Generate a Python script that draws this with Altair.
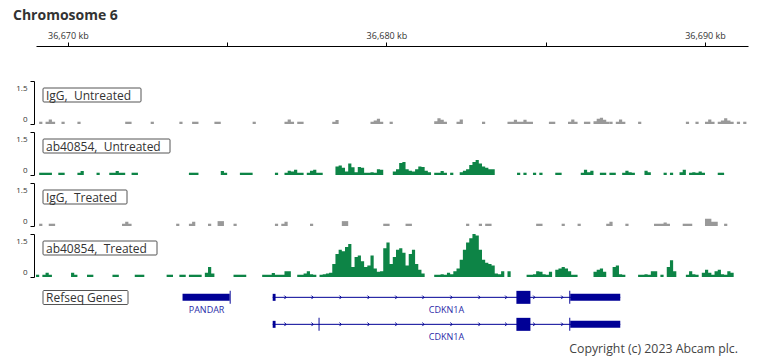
import altair as alt
import pandas as pd

# ---------------- data ----------------
TITLE = "Chromosome 6"
X_DOMAIN = [36669.0, 36691.35]          # kb
TICK_KB = [36670, 36675, 36680, 36685, 36690]
BIN_ORIGIN = 36669.0                     # kb, coverage bins start here
BIN_KB = 0.1                             # kb per coverage bin

# coverage islands: (first bin index, bin heights)
igg_untreated = [
    (1, [0.08]), (3, [0.08, 0.16, 0.08]), (8, [0.08]), (13, [0.08]),
    (28, [0.08, 0.08]), (36, [0.08]), (45, [0.08]), (49, [0.08, 0.08]),
    (56, [0.08, 0.08]), (68, [0.08]), (78, [0.08, 0.16, 0.08]), (82, [0.08, 0.08]),
    (93, [0.08, 0.14]), (105, [0.08, 0.12, 0.18, 0.08]), (111, [0.08]),
    (125, [0.1, 0.2, 0.15, 0.08]), (132, [0.08, 0.16]), (140, [0.08]),
    (148, [0.08, 0.08, 0.15, 0.08, 0.08, 0.15, 0.08, 0.08]), (161, [0.08, 0.08]),
    (167, [0.08, 0.16, 0.08]), (172, [0.08, 0.08]), (175, [0.1, 0.18, 0.22, 0.15, 0.08]),
    (180, [0.08]), (182, [0.08, 0.16, 0.08]), (189, [0.08]), (204, [0.08]),
    (207, [0.08]), (210, [0.08, 0.16, 0.08]), (214, [0.08, 0.12, 0.2, 0.12, 0.08]),
    (220, [0.08]), (222, [0.08]),
]

ab_untreated = [
    (1, [0.08, 0.08, 0.08, 0.08]), (7, [0.08, 0.08]), (13, [0.08, 0.14]), (19, [0.08]),
    (23, [0.08, 0.08, 0.14, 0.08, 0.08]), (30, [0.08, 0.08]), (48, [0.08, 0.08, 0.08]),
    (58, [0.14, 0.08]), (64, [0.08, 0.08, 0.08, 0.08]), (75, [0.08]),
    (78, [0.08, 0.15, 0.12, 0.18, 0.08, 0.08]), (85, [0.08, 0.15, 0.18, 0.08, 0.08]),
    (94, [0.3, 0.33, 0.25, 0.12, 0.4, 0.27, 0.1, 0.28, 0.25, 0.08, 0.08, 0.1, 0.08, 0.2, 0.18]),
    (112, [0.12, 0.2, 0.42, 0.45, 0.2, 0.15, 0.12, 0.2, 0.3, 0.28, 0.15, 0.1]),
    (125, [0.08, 0.08, 0.14, 0.08]), (130, [0.08]),
    (133, [0.1, 0.15, 0.2, 0.35, 0.45, 0.52, 0.4, 0.3, 0.25, 0.2, 0.2]),
    (151, [0.08]), (153, [0.08]), (156, [0.08]), (158, [0.08]), (163, [0.08, 0.08]),
    (171, [0.08, 0.18, 0.1, 0.15]), (177, [0.08, 0.08]), (180, [0.08, 0.08]),
    (184, [0.08, 0.15, 0.1, 0.08]), (191, [0.15, 0.1]), (197, [0.08]), (199, [0.08]),
    (202, [0.1, 0.18]), (205, [0.08, 0.1, 0.08, 0.12, 0.08]), (214, [0.08, 0.08]),
]

igg_treated = [
    (1, [0.08]), (4, [0.08, 0.08]), (27, [0.08, 0.15, 0.08]), (44, [0.08]),
    (48, [0.08, 0.15]), (54, [0.08]), (57, [0.17, 0.17]), (62, [0.08]), (75, [0.08]),
    (77, [0.08, 0.15]), (86, [0.08]), (96, [0.17, 0.17]), (109, [0.08, 0.08]),
    (116, [0.08, 0.08]), (135, [0.08]), (139, [0.08]), (141, [0.08, 0.08]),
    (157, [0.08, 0.08]), (165, [0.08]), (170, [0.08]), (179, [0.08, 0.15]), (185, [0.08]),
    (194, [0.08, 0.08, 0.08, 0.12, 0.08]), (203, [0.08, 0.08, 0.08]),
    (210, [0.25, 0.25, 0.15, 0.15]), (216, [0.08]),
]

ab_treated = [
    (0, [0.08]), (2, [0.08, 0.15, 0.08]), (11, [0.15, 0.08]), (16, [0.08, 0.08]),
    (24, [0.08, 0.08]), (31, [0.08, 0.08, 0.08]), (41, [0.08, 0.08]), (45, [0.08, 0.08]),
    (48, [0.08, 0.08, 0.08, 0.08]), (53, [0.15, 0.35, 0.12]), (62, [0.08, 0.08, 0.08, 0.08]),
    (71, [0.08, 0.08, 0.08, 0.14, 0.08, 0.08, 0.08, 0.2, 0.2]),
    (82, [0.08, 0.08, 0.12, 0.2, 0.1, 0.08]),
    (89, [0.08, 0.1, 0.12, 0.15, 0.45, 0.8, 0.95, 0.9, 1.05, 1.15, 0.35, 0.7, 0.75, 0.55,
          0.35, 0.4, 0.75, 0.3, 0.18, 0.2, 1.0, 1.2, 0.45, 0.7, 0.95, 1.0, 0.85, 0.4, 0.8,
          0.95, 0.45, 0.25, 0.12]),
    (125, [0.08, 0.08, 0.1, 0.08, 0.15, 0.1, 0.2, 0.3, 0.6, 0.95, 1.2, 1.35, 1.5, 1.45,
           0.95, 0.6, 0.5, 0.45, 0.4, 0.12, 0.1, 0.2]),
    (148, [0.2]), (154, [0.08, 0.08, 0.1, 0.2, 0.18, 0.1, 0.08, 0.18]),
    (163, [0.25, 0.3, 0.35, 0.3, 0.2, 0.08, 0.08]), (175, [0.18, 0.25, 0.3, 0.18]),
    (181, [0.35, 0.4, 0.1, 0.08]), (189, [0.08, 0.08, 0.1, 0.08, 0.2, 0.2]), (196, [0.08]),
    (198, [0.35, 0.58, 0.2]), (204, [0.08, 0.2, 0.1, 0.08]),
    (209, [0.15, 0.25, 0.15, 0.08, 0.2, 0.25, 0.1, 0.08, 0.2, 0.15]),
]

track_names = ["IgG,\u00a0\u00a0Untreated", "ab40854,\u00a0\u00a0Untreated",
               "IgG,\u00a0\u00a0Treated", "ab40854,\u00a0\u00a0Treated"]
track_data = [igg_untreated, ab_untreated, igg_treated, ab_treated]
track_colors = ["#999999", "#0d8446", "#999999", "#0d8446"]
label_box_w = [98, 127, 84, 114]

# genes
gene_names = ["PANDAR", "CDKN1A", "CDKN1A"]
gene_rows = [0, 0, 1]
gene_start = [36673.60, 36676.43, 36676.43]
gene_end = [36675.11, 36687.34, 36687.34]
# exons: kind utr = thin block, cds = tall block
exon_row = [0, 0, 0, 0, 0, 0, 1, 1, 1, 1, 1]
exon_start = [36673.60, 36675.08, 36676.43, 36684.08, 36685.74, 36685.77,
              36676.43, 36677.87, 36684.08, 36685.74, 36685.77]
exon_end = [36675.08, 36675.11, 36676.52, 36684.52, 36685.77, 36687.34,
            36676.52, 36677.90, 36684.52, 36685.77, 36687.34]
exon_kind = ["utr", "cds", "utr", "cds", "cds", "utr",
             "utr", "cds", "cds", "cds", "utr"]
# strand chevrons along CDKN1A introns
chevron_kb = [36676.83, 36677.68, 36678.56, 36679.44, 36680.31, 36681.16,
              36682.04, 36682.92, 36683.76, 36684.64, 36685.52]

# ---------------- build ----------------
W = 712
TRACK_H = 43
GENE_COLOR = "#000096"
FONT = "Open Sans"

x_scale = alt.Scale(domain=X_DOMAIN, nice=False, zero=False)


def islands_df(islands):
    rows = []
    for j, (k, hs) in enumerate(islands):
        for i, h in enumerate(hs):
            rows.append({"x": BIN_ORIGIN + BIN_KB * (k + i), "y": h, "g": j})
        rows.append({"x": BIN_ORIGIN + BIN_KB * (k + len(hs)), "y": hs[-1], "g": j})
    return pd.DataFrame(rows)


def label_box(text, w, top):
    d = pd.DataFrame({"t": [text]})
    box = alt.Chart(d).mark_rect(fill="white", stroke="#555", strokeWidth=1,
                                 cornerRadius=1).encode(
        x=alt.value(7), x2=alt.value(7 + w), y=alt.value(top), y2=alt.value(top + 14))
    txt = alt.Chart(d).mark_text(align="left", baseline="middle", fontSize=12,
                                 font=FONT, color="#333").encode(
        x=alt.value(10), y=alt.value(top + 7.5), text="t:N")
    return box, txt


def track(i):
    df = islands_df(track_data[i])
    if i == 0:
        xaxis = alt.Axis(orient="top", offset=35, values=TICK_KB,
                         labelExpr="datum.value % 10 == 0 ? format(datum.value, ',') + ' kb' : ''",
                         tickSize=4, labelPadding=2, labelFontSize=9, labelFont=FONT,
                         labelColor="#333", domainColor="#000", tickColor="#000",
                         grid=False, title=None, labelFlush=False)
    else:
        xaxis = None
    yaxis = alt.Axis(values=[0, 1.5], format=".1~f", title=None, grid=False, offset=2,
                     tickSize=4, labelFontSize=8, labelFont=FONT, labelColor="#333",
                     labelPadding=3, minExtent=21, maxExtent=21,
                     domainColor="#000", tickColor="#000", labelBaseline="middle",
                     labelOffset={"condition": {"test": "datum.value === 0", "value": -4.5},
                                  "value": 7.5})
    area = alt.Chart(df).mark_area(interpolate="step-after", color=track_colors[i]).encode(
        x=alt.X("x:Q", scale=x_scale, axis=xaxis),
        y=alt.Y("y:Q", scale=alt.Scale(domain=[0, 1.5], nice=False), axis=yaxis, stack=None),
        detail="g:N",
    )
    box, txt = label_box(track_names[i], label_box_w[i], 7)
    return alt.layer(area, box, txt).properties(width=W, height=TRACK_H)


genes_df = pd.DataFrame({"name": gene_names, "row": gene_rows,
                         "start": gene_start, "end": gene_end})
genes_df["mid"] = (genes_df["start"] + genes_df["end"]) / 2
exons_df = pd.DataFrame({"row": exon_row, "start": exon_start, "end": exon_end,
                         "kind": exon_kind})
chev_df = pd.DataFrame([{"x": c, "row": r} for r in [0, 1] for c in chevron_kb])

y_gene = alt.Scale(domain=[-0.494, 1.728], reverse=True, nice=False, zero=False, padding=0)

intron = alt.Chart(genes_df).transform_filter("datum.name == 'CDKN1A'").mark_rule(
    color=GENE_COLOR, strokeWidth=1).encode(
    x=alt.X("start:Q", scale=x_scale, axis=None), x2="end:Q",
    y=alt.Y("row:Q", scale=y_gene, axis=None))
utr = alt.Chart(exons_df).transform_filter("datum.kind == 'utr'").mark_bar(
    color=GENE_COLOR, size=7).encode(
    x=alt.X("start:Q", scale=x_scale, axis=None), x2="end:Q",
    y=alt.Y("row:Q", scale=y_gene, axis=None))
cds = alt.Chart(exons_df).transform_filter("datum.kind == 'cds'").mark_bar(
    color=GENE_COLOR, size=13).encode(
    x=alt.X("start:Q", scale=x_scale, axis=None), x2="end:Q",
    y=alt.Y("row:Q", scale=y_gene, axis=None))
chev = alt.Chart(chev_df).mark_point(
    shape="M -0.6 -1 L 0.4 0 L -0.6 1", filled=False, color=GENE_COLOR,
    strokeWidth=1, size=12, opacity=1).encode(
    x=alt.X("x:Q", scale=x_scale, axis=None),
    y=alt.Y("row:Q", scale=y_gene, axis=None))
names = alt.Chart(genes_df).mark_text(fontSize=9, font=FONT, color="#2a2aa8",
                                      baseline="middle", dy=13).encode(
    x=alt.X("mid:Q", scale=x_scale, axis=None),
    y=alt.Y("row:Q", scale=y_gene, axis=None), text="name:N")
rbox, rtxt = label_box("Refseq Genes", 85, 6.5)
copy = alt.Chart(pd.DataFrame({"t": ["Copyright (c) 2023 Abcam plc."]})).mark_text(
    align="right", baseline="middle", fontSize=12.3, font=FONT, color="#444").encode(
    x=alt.value(702), y=alt.value(65), text="t:N")

gene_panel = alt.layer(intron, utr, cds, chev, names, rbox, rtxt, copy).properties(
    width=W, height=60)

chart = alt.vconcat(track(0), track(1), track(2), track(3), gene_panel,
                    spacing=6.0).properties(
    title=alt.TitleParams(TITLE, anchor="start", fontSize=14, fontWeight="bold",
                          font=FONT, color="#333", offset=8),
    padding={"left": 5, "top": 1, "right": 5, "bottom": 0},
).configure_view(stroke=None)

chart.save("out.html", embed_options={"renderer": "svg", "actions": False})
